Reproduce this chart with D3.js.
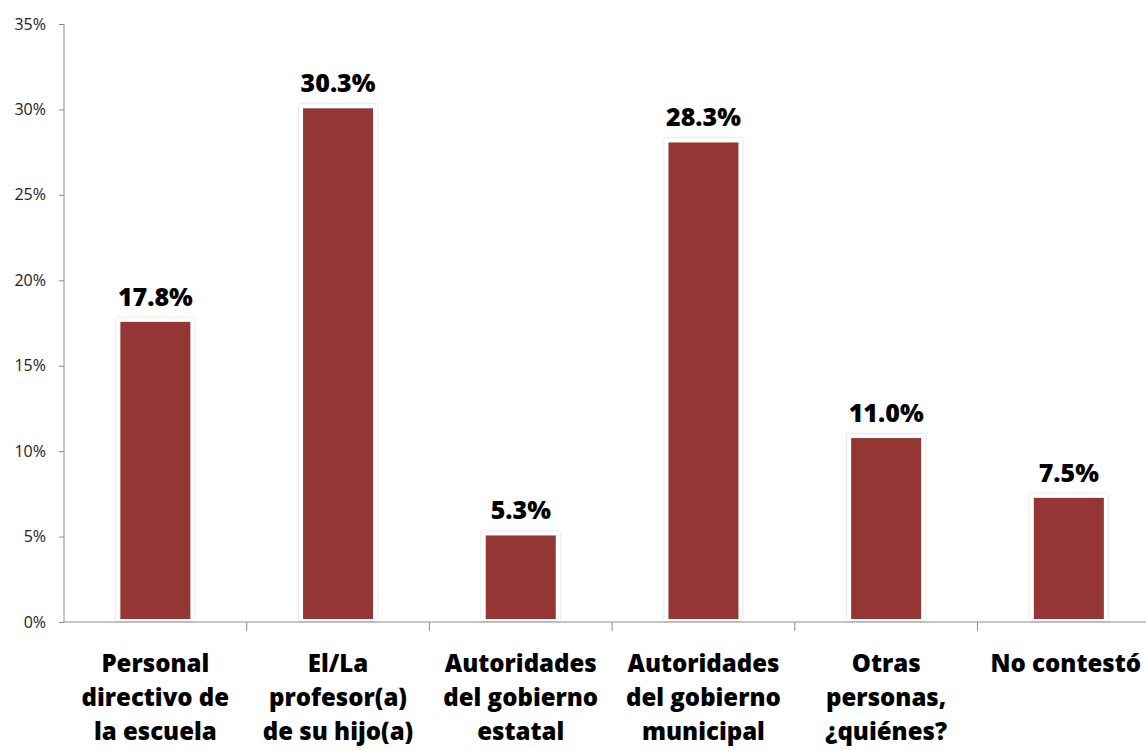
<!DOCTYPE html>
<html>
<head>
<meta charset="utf-8">
<script src="https://cdn.jsdelivr.net/npm/d3@7"></script>
<style>
  body { margin: 0; background: #fff; }
  svg { display: block; }
</style>
</head>
<body>
<svg class="chart"></svg>
<script>
(function () {
    'use strict';

    /* Data */

    var categories = [
        ['Personal', 'directivo de', 'la escuela'],
        ['El/La', 'profesor(a)', 'de su hijo(a)'],
        ['Autoridades', 'del gobierno', 'estatal'],
        ['Autoridades', 'del gobierno', 'municipal'],
        ['Otras', 'personas,', '¿quiénes?'],
        ['No contestó']
    ];
    var values = [17.8, 30.3, 5.3, 28.3, 11.0, 7.5];
    var yTicks = [0, 5, 10, 15, 20, 25, 30, 35];

    /* Setup SVG */

    var width = 1146,
        height = 751,
        left = 64,
        top = 24,
        bottom = 622,
        band = 182.7,
        font = '"Open Sans", sans-serif';

    var svg = d3.select('.chart')
        .attr('width', width)
        .attr('height', height);

    var defs = svg.append('defs');
    var f = defs.append('filter').attr('id', 'sh')
        .attr('x', '-20%').attr('y', '-20%').attr('width', '140%').attr('height', '140%');
    f.append('feDropShadow').attr('dx', 0).attr('dy', 0)
        .attr('stdDeviation', 1.2).attr('flood-color', '#000').attr('flood-opacity', 0.25);

    var x = d3.scaleBand()
        .domain(d3.range(categories.length))
        .range([left, left + band * categories.length])
        .paddingInner(0).paddingOuter(0);

    var y = d3.scaleLinear().domain([0, 35]).range([bottom, top]);

    /* Y axis */

    var yAxis = svg.append('g')
        .attr('transform', 'translate(' + left + ',0)')
        .call(d3.axisLeft(y).tickValues(yTicks).tickSize(5).tickPadding(13)
            .tickFormat(function (d) { return d + '%'; }));
    yAxis.selectAll('line, path').attr('stroke', '#8c8c8c');
    yAxis.select('.domain').attr('d', 'M0,' + top + 'V' + bottom);
    yAxis.attr('font-size', null).attr('font-family', null);
    yAxis.selectAll('text')
        .style('font-family', font)
        .style('font-size', '16px').attr('fill', '#222');

    /* X axis */

    var xAxis = svg.append('g').attr('transform', 'translate(0,' + bottom + ')');
    xAxis.append('line')
        .attr('x1', left).attr('x2', width)
        .attr('stroke', '#8c8c8c');
    xAxis.selectAll('line.tick')
        .data(d3.range(1, categories.length))
        .join('line').attr('class', 'tick')
        .attr('x1', function (d) { return x(d); })
        .attr('x2', function (d) { return x(d); })
        .attr('y1', 0).attr('y2', 9)
        .attr('stroke', '#8c8c8c');

    /* Bars */

    var barW = 70;

    svg.selectAll('rect.bar')
        .data(values)
        .join('rect').attr('class', 'bar')
        .attr('x', function (d, i) { return x(i) + x.bandwidth() / 2 - barW / 2 - 4; })
        .attr('y', function (d) { return y(d); })
        .attr('width', barW + 8)
        .attr('height', function (d) { return bottom - 1 - y(d); })
        .attr('fill', '#fff')
        .attr('filter', 'url(#sh)');

    svg.selectAll('rect.fill')
        .data(values)
        .join('rect').attr('class', 'fill')
        .attr('x', function (d, i) { return x(i) + x.bandwidth() / 2 - barW / 2; })
        .attr('y', function (d) { return y(d) + 4; })
        .attr('width', barW)
        .attr('height', function (d) { return bottom - 3 - y(d) - 4; })
        .attr('fill', '#943634');

    /* Value labels */

    svg.selectAll('text.val')
        .data(values)
        .join('text').attr('class', 'val')
        .attr('x', function (d, i) { return x(i) + x.bandwidth() / 2; })
        .attr('y', function (d) { return y(d) - 12; })
        .attr('text-anchor', 'middle')
        .style('font-family', font)
        .style('font-weight', 800)
        .style('font-size', '25px')
        .attr('fill', '#000')
        .text(function (d) { return d.toFixed(1) + '%'; });

    /* Category labels */

    var cat = svg.selectAll('text.cat')
        .data(categories)
        .join('text').attr('class', 'cat')
        .attr('text-anchor', 'middle')
        .style('font-family', font)
        .style('font-weight', 800)
        .style('font-size', '24px')
        .attr('fill', '#000');

    cat.selectAll('tspan')
        .data(function (d, i) { return d.map(function (t) { return [t, i]; }); })
        .join('tspan')
        .attr('y', function (d, j) { return 672 + j * 34; })
        .text(function (d) { return d[0]; })
        .attr('x', function (d) {
            var c = x(d[1]) + x.bandwidth() / 2,
                w = this.getComputedTextLength();
            return Math.min(c, width - 5 - w / 2);
        });

})();
</script>
</body>
</html>
